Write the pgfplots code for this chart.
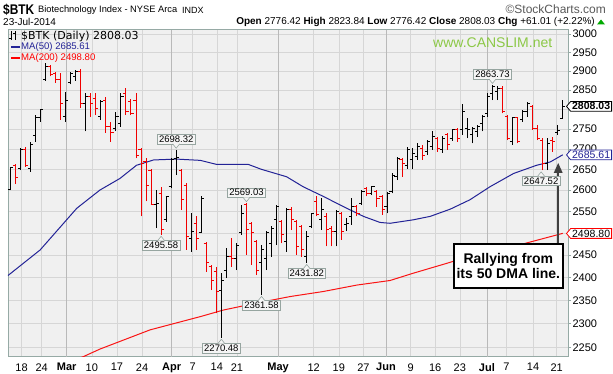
\documentclass[border=0pt]{standalone}
\usepackage{fontspec}
\setmainfont{Liberation Sans}
\newfontfamily\dejavu{DejaVu Sans}
\usepackage{graphicx}
\usepackage{pgfplots}
\pgfplotsset{compat=1.18}
\usepackage{pgfplotstable}
\usetikzlibrary{shapes.symbols}

\newcommand{\fs}[1]{\fontsize{#1}{#1}\selectfont}

\definecolor{plotbg}{RGB}{240,240,240}
\definecolor{gridc}{RGB}{214,214,214}
\definecolor{monthgrid}{RGB}{185,185,185}
\definecolor{framec}{RGB}{150,170,165}
\definecolor{barred}{RGB}{240,0,0}
\definecolor{ma50}{RGB}{35,35,150}
\definecolor{ma200}{RGB}{250,20,20}
\definecolor{lblfill}{RGB}{245,245,245}
\definecolor{lblline}{RGB}{150,165,160}
\definecolor{canslim}{RGB}{140,200,70}
\definecolor{arrowc}{RGB}{64,64,64}
\definecolor{hdrgray}{RGB}{90,90,90}
\definecolor{upgreen}{RGB}{0,170,0}

\pgfdeclareplotmark{oL}{\pgfpathmoveto{\pgfqpoint{-2.6pt}{0pt}}\pgfpathlineto{\pgfqpoint{0.5pt}{0pt}}\pgfusepathqstroke}
\pgfdeclareplotmark{cR}{\pgfpathmoveto{\pgfqpoint{-0.5pt}{0pt}}\pgfpathlineto{\pgfqpoint{2.6pt}{0pt}}\pgfusepathqstroke}

% x = trading day index (0 = 3 Mar 2014), open high low close
\pgfplotstableread{
x o h l c
-11 2602 2656 2600 2654
-9 2652 2702 2648 2698
-7 2652 2718 2644 2710
-6 2734 2785 2718 2778
-5 2778 2800 2768 2799
-4 2877 2921 2874 2912
0 2781 2846 2768 2824
1 2869 2899 2865 2895
2 2886 2903 2874 2899
4 2815 2842 2744 2832
7 2781 2824 2773 2820
10 2752 2794 2744 2781
11 2765 2842 2756 2832
18 2565 2600 2511 2569
20 2530 2585 2526 2585
21 2608 2677 2604 2673
22 2677 2698.32 2636 2680
25 2488 2545 2457 2504
27 2501 2585 2500 2581
31 2372 2409 2270.48 2394
32 2416 2465 2398 2446
34 2442 2476 2416 2472
35 2500 2565 2496 2545
39 2434 2472 2361.58 2461
40 2442 2504 2416 2500
41 2476 2515 2446 2511
42 2530 2565 2472 2561
44 2480 2557 2457 2553
48 2446 2504 2431.82 2492
49 2515 2545 2511 2545
51 2530 2581 2507 2553
54 2504 2553 2469 2549
56 2519 2534 2504 2522
57 2538 2581 2519 2561
59 2569 2600 2565 2596
61 2592 2611 2588 2608
64 2561 2596 2545 2592
65 2596 2640 2592 2636
66 2632 2681 2624 2677
68 2660 2706 2652 2698
69 2673 2702 2652 2689
70 2681 2714 2673 2706
72 2693 2722 2685 2718
73 2706 2744 2698 2731
75 2698 2733 2691 2727
77 2727 2750 2720 2748
79 2748 2815 2736 2794
80 2752 2778 2727 2748
81 2736 2756 2714 2752
82 2744 2761 2731 2756
83 2765 2785 2744 2781
84 2790 2842 2781 2832
85 2842 2863.73 2824 2860
86 2846 2861 2824 2855
89 2718 2781 2710 2778
91 2773 2799 2768 2794
92 2794 2820 2781 2815
96 2664 2727 2648 2714
98 2740 2761 2736 2747.02
99 2776.42 2823.84 2776.42 2808.03
}\upbars

\pgfplotstableread{
x o h l c
-10 2660 2664 2615 2630
-8 2698 2706 2656 2660
-3 2912 2916 2886 2891
-2 2895 2899 2869 2877
-1 2877 2895 2773 2815
3 2899 2905 2803 2815
5 2832 2842 2781 2815
6 2828 2842 2785 2803
8 2824 2832 2740 2756
9 2756 2768 2718 2740
12 2842 2855 2785 2794
13 2820 2828 2785 2790
14 2824 2842 2677 2685
15 2698 2702 2538 2664
16 2669 2677 2573 2611
17 2648 2652 2565 2567
19 2592 2608 2495.58 2507
23 2648 2652 2553 2577
24 2611 2616 2461 2492
26 2522 2538 2461 2488
28 2476 2480 2412 2434
29 2423 2427 2372 2394
30 2412 2423 2322 2368
33 2446 2488 2423 2442
36 2565 2569.03 2450 2507
37 2522 2526 2427 2500
38 2480 2484 2405 2416
43 2526 2530 2476 2496
45 2553 2561 2507 2530
46 2526 2530 2450 2469
47 2515 2519 2446 2461
50 2573 2585 2538 2542
52 2538 2545 2469 2507
53 2511 2515 2469 2504
55 2545 2549 2484 2504
58 2561 2565 2538 2545
60 2604 2608 2585 2592
62 2596 2600 2561 2581
63 2585 2588 2542 2553
67 2673 2677 2632 2664
71 2702 2710 2673 2685
74 2727 2729 2693 2702
76 2736 2740 2698 2710
78 2748 2752 2718 2727
87 2855 2861 2790 2794
88 2781 2785 2722 2727
90 2778 2781 2714 2718
93 2807 2811 2748 2752
94 2752 2761 2722 2727
95 2722 2727 2647.52 2664
97 2722 2729 2693 2718
}\downbars

\tikzset{
  lbl/.style={draw=lblline, fill=lblfill, line width=0.6pt, inner xsep=1.6pt, inner ysep=1.4pt, font=\fs{9.5}},
  pricebox/.style={signal, signal to=west, signal pointer angle=100, fill=white, line width=0.8pt, inner xsep=1.5pt, inner ysep=1.2pt, anchor=west, font=\fs{10.5}},
}
\newcommand{\hilbl}[2]{%
  \node[lbl,anchor=south] at ([yshift=5.5pt]axis cs:#1,#2) {#2};
  \filldraw[draw=lblline, fill=lblfill, line width=0.6pt] ([shift={(-3.5pt,5.9pt)}]axis cs:#1,#2) -- ([shift={(0pt,1.5pt)}]axis cs:#1,#2) -- ([shift={(3.5pt,5.9pt)}]axis cs:#1,#2);}
\newcommand{\lolbl}[2]{%
  \node[lbl,anchor=north] at ([yshift=-5.5pt]axis cs:#1,#2) {#2};
  \filldraw[draw=lblline, fill=lblfill, line width=0.6pt] ([shift={(-3.5pt,-5.9pt)}]axis cs:#1,#2) -- ([shift={(0pt,-1.5pt)}]axis cs:#1,#2) -- ([shift={(3.5pt,-5.9pt)}]axis cs:#1,#2);}

\begin{document}
\begin{tikzpicture}
\useasboundingbox (-8pt,-17pt) rectangle (605pt,357pt);
\fill[white] (-8pt,-17pt) rectangle (605pt,357pt);
\begin{axis}[
  at={(0pt,0pt)}, anchor=south west,
  scale only axis, width=560pt, height=327pt,
  xmin=-11.5, xmax=100.05,
  ymode=log, ymin=2231, ymax=3012,
  axis background/.style={fill=plotbg},
  axis line style={draw=framec, line width=0.8pt},
  clip mode=individual,
  ytick={2250,2300,2350,2400,2450,2500,2550,2600,2650,2700,2750,2800,2850,2900,2950,3000},
  yticklabels={2250,2300,2350,2400,2450,{},2550,2600,2650,2700,2750,{},2850,2900,2950,3000},
  ytick pos=right, yticklabel pos=right,
  tick align=outside, major tick length=3pt,
  ytick style={draw=framec, line width=0.6pt},
  yticklabel style={font=\fs{11}, xshift=-2pt},
  xtick={-8.8,-4.8,5.2,10.2,15.2,25.3,30.1,34.1,49.4,54.4,59.3,68.7,73.6,78.5,87.8,93.1,97.8},
  xticklabels={18,24,10,17,24,7,14,21,12,19,27,9,16,23,7,14,21},
  xtick style={draw=none},
  xticklabel style={font=\fs{11}},
  extra x ticks={0.2,21.1,42.3,63.8,83.9},
  extra x tick labels={\textbf{Mar},\textbf{Apr},\textbf{May},\textbf{Jun},\textbf{Jul}},
  extra x tick style={grid=major, major grid style={draw=monthgrid, line width=0.8pt}, tick style={draw=none}},
  xmajorgrids, ymajorgrids,
  major grid style={draw=gridc, line width=0.6pt},
]
% moving averages
\addplot[ma200, line width=1pt] coordinates {(2.0,2226) (3.4,2231) (6.8,2247) (16.8,2287) (26.8,2315) (31.4,2329) (38.0,2344) (44.7,2358) (51.3,2369) (58.0,2383) (64.6,2393) (69.2,2409) (75.9,2431) (82.5,2454) (89.2,2469) (99,2498.80)};
\addplot[ma50, line width=1pt] coordinates {(-11.5,2404) (-5.1,2461) (2.2,2557) (6.8,2600) (10.8,2628) (14.1,2660) (17.5,2673) (22.1,2675) (26.8,2672) (30.1,2662) (36.4,2662) (39.0,2650) (44.0,2632) (47.3,2608) (51.3,2585) (55.3,2561) (59.3,2538) (62.6,2524) (64.6,2522) (69.2,2530) (72.6,2538) (76.6,2555) (80.5,2577) (84.5,2608) (89.2,2640) (93.8,2660) (96.5,2668) (99,2685.61)};
% up bars (black)
\addplot[draw=none, mark=none, error bars/.cd, y dir=plus, y explicit, error mark=none, error bar style={draw=black, line width=1pt, solid}]
  table[x=x, y=l, y error expr=\thisrow{h}-\thisrow{l}] {\upbars};
\addplot[only marks, mark=oL, mark options={draw=black, line width=1pt, solid}] table[x=x, y=o] {\upbars};
\addplot[only marks, mark=cR, mark options={draw=black, line width=1pt, solid}] table[x=x, y=c] {\upbars};
% down bars (red)
\addplot[draw=none, mark=none, error bars/.cd, y dir=plus, y explicit, error mark=none, error bar style={draw=barred, line width=1pt, solid}]
  table[x=x, y=l, y error expr=\thisrow{h}-\thisrow{l}] {\downbars};
\addplot[only marks, mark=oL, mark options={draw=barred, line width=1pt, solid}] table[x=x, y=o] {\downbars};
\addplot[only marks, mark=cR, mark options={draw=barred, line width=1pt, solid}] table[x=x, y=c] {\downbars};
% annotation arrow (under the call-outs)
\draw[arrowc, line width=2.4pt] (axis cs:98.1,2474) -- ([yshift=-8pt]axis cs:98.1,2665.6);
\fill[arrowc] ([shift={(-4.5pt,-10pt)}]axis cs:98.1,2665.6) -- ([shift={(4.5pt,-10pt)}]axis cs:98.1,2665.6) -- (axis cs:98.1,2665.6) -- cycle;
% high / low call-outs
\hilbl{22}{2698.32}
\lolbl{19}{2495.58}
\hilbl{36}{2569.03}
\lolbl{39}{2361.58}
\lolbl{31}{2270.48}
\lolbl{48}{2431.82}
\hilbl{85}{2863.73}
\lolbl{94.7}{2647.52}
\coordinate (pClose) at (axis cs:100.05,2808.03);
\coordinate (pMA50) at (axis cs:100.05,2685.61);
\coordinate (pMA200) at (axis cs:100.05,2498.80);
\end{axis}
% price boxes on the right axis
\node[pricebox, draw=black, font=\fs{10.5}\bfseries] at ([xshift=-2pt]pClose) {2808.03};
\node[pricebox, draw=ma50, text=ma50] at ([xshift=-2pt]pMA50) {2685.61};
\node[pricebox, draw=red, text=black] at ([xshift=-2pt]pMA200) {2498.80};

\begin{scope}[x=1pt,y=-1pt,shift={(-8pt,357pt)}]
% header
\node[anchor=west, inner sep=0pt] at (3,9.5) {\scalebox{0.85}[1]{\fs{14}\bfseries \$BTK}};
\node[anchor=west, inner sep=0pt] at (38,10) {\fs{9.3}Biotechnology Index - NYSE Arca};
\node[anchor=west, inner sep=0pt] at (182,10.3) {\fs{9}INDX};
\node[anchor=east, inner sep=0pt, text=hdrgray] at (606,9.5) {\fs{12}©StockCharts.com};
\node[anchor=west, inner sep=0pt] at (3,22) {\fs{10}23-Jul-2014};
\node[anchor=east, inner sep=0pt] at (595,22) {\fs{10}\textbf{Open} 2776.42 \textbf{High} 2823.84 \textbf{Low} 2776.42 \textbf{Close} 2808.03 \textbf{Chg} +61.01 (+2.22\%)};
\fill[upgreen] (597,24.5) -- (605,24.5) -- (601,19.5) -- cycle;
% legend
\draw[black, line width=0.8pt] (11,31.5) -- (11,40); \draw[black, line width=0.8pt] (9.5,38) -- (11,38); \draw[black, line width=0.8pt] (11,33) -- (12.5,33);
\draw[black, line width=0.8pt] (15,31.5) -- (15,40); \draw[black, line width=0.8pt] (13.5,33) -- (15,33); \draw[black, line width=0.8pt] (15,38) -- (16.5,38);
\node[anchor=west, inner sep=0pt] at (21,36.3) {\dejavu\fs{11}\$BTK (Daily) 2808.03};
\draw[ma50, line width=2pt] (11,46.7) -- (19.5,46.7);
\node[anchor=west, inner sep=0pt, text=ma50] at (21,46.9) {\fs{9.6}MA(50) 2685.61};
\draw[red, line width=2pt] (11,57.7) -- (19.5,57.7);
\node[anchor=west, inner sep=0pt, text=red] at (21,57.9) {\fs{9.6}MA(200) 2498.80};
% watermark
\node[anchor=west, inner sep=0pt, text=canslim] at (433,42.5) {\fs{14}www.CANSLIM.net};
% annotation box
\node[draw=black, line width=2pt, fill=white, minimum width=109pt, minimum height=44.6pt, inner sep=0pt, align=center, font=\fs{14}\bfseries] at (508.3,266) {Rallying from\\[1pt]its 50 DMA line.};
\end{scope}
\end{tikzpicture}
\end{document}
